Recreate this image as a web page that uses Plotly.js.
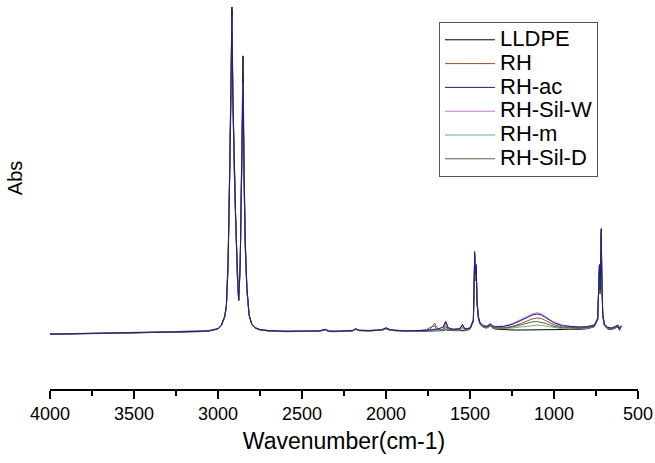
<!DOCTYPE html>
<html>
<head>
<meta charset="utf-8">
<script src="https://cdn.plot.ly/plotly-3.0.1.min.js"></script>
<style>html,body{margin:0;padding:0;background:#fff;}#chart{width:655px;height:463px;}</style>
</head>
<body>
<div id="chart"></div>
<script>
const wavenumber = [4000,3900,3800,3700,3600,3500,3400,3300,3200,3100,
3050,3000,2980,2960,2950,2940,2930,2922,2917,2912,
2905,2895,2885,2877,2868,2860,2851,2845,2838,2828,
2815,2800,2780,2750,2700,2600,2500,2400,2360,2340,
2300,2200,2180,2160,2100,2050,2020,2000,1980,1950,
1900,1850,1800,1760,1740,1710,1700,1680,1660,1645,
1630,1600,1560,1545,1530,1500,1480,1472,1468,1463,
1458,1450,1440,1420,1400,1378,1368,1350,1300,1250,
1200,1160,1130,1100,1075,1050,1020,1000,950,900,
850,800,760,740,730,725,719,716,710,700,
680,660,640,620,610,600];

const seriesNames = ["LLDPE","RH","RH-ac","RH-Sil-W","RH-m","RH-Sil-D"];

const absLLDPE = [-0.004,-0.003,-0.002,-0.002,0.000,-0.001,0.001,0.002,0.003,0.004,
0.006,0.012,0.022,0.05,0.085,0.22,0.50,0.80,1.00,0.74,
0.56,0.36,0.18,0.10,0.21,0.47,0.85,0.52,0.29,0.14,
0.055,0.028,0.015,0.009,0.006,0.004,0.004,0.005,0.009,0.004,
0.004,0.006,0.011,0.007,0.006,0.007,0.009,0.013,0.009,0.007,
0.005,0.005,0.005,0.006,0.006,0.006,0.006,0.007,0.007,0.010,
0.008,0.007,0.007,0.009,0.007,0.011,0.035,0.24,0.17,0.20,
0.09,0.045,0.026,0.017,0.015,0.022,0.016,0.012,0.010,0.009,
0.009,0.009,0.009,0.010,0.009,0.009,0.009,0.009,0.009,0.010,
0.011,0.013,0.019,0.04,0.20,0.12,0.32,0.19,0.055,0.022,
0.012,0.010,0.013,0.018,0.008,0.02];

const absRH = [-0.003,-0.003,-0.001,-0.002,0.001,0.000,0.002,0.003,0.004,0.005,
0.007,0.013,0.023,0.05,0.08,0.21,0.48,0.76,0.96,0.71,
0.54,0.35,0.18,0.10,0.20,0.43,0.76,0.48,0.27,0.13,
0.055,0.028,0.016,0.010,0.007,0.005,0.005,0.006,0.010,0.005,
0.005,0.007,0.012,0.008,0.007,0.008,0.010,0.014,0.010,0.008,
0.006,0.006,0.007,0.007,0.010,0.030,0.018,0.009,0.010,0.030,
0.012,0.009,0.012,0.024,0.011,0.013,0.035,0.22,0.16,0.19,
0.09,0.047,0.028,0.020,0.018,0.025,0.019,0.016,0.016,0.020,
0.028,0.036,0.043,0.046,0.044,0.038,0.030,0.025,0.018,0.016,
0.016,0.017,0.022,0.042,0.19,0.12,0.30,0.18,0.055,0.024,
0.015,0.013,0.016,0.022,0.012,0.02];

const absRHac = [-0.004,-0.002,-0.002,-0.001,0.000,0.001,0.002,0.002,0.004,0.005,
0.007,0.013,0.024,0.052,0.085,0.22,0.50,0.79,0.99,0.73,
0.55,0.36,0.18,0.10,0.21,0.45,0.78,0.50,0.28,0.14,
0.056,0.029,0.016,0.010,0.007,0.005,0.005,0.006,0.011,0.006,
0.005,0.007,0.013,0.008,0.007,0.008,0.011,0.016,0.011,0.008,
0.006,0.006,0.007,0.008,0.009,0.010,0.011,0.014,0.018,0.036,
0.016,0.011,0.013,0.026,0.012,0.015,0.04,0.25,0.18,0.21,
0.10,0.05,0.03,0.022,0.020,0.028,0.022,0.019,0.020,0.026,
0.037,0.047,0.055,0.058,0.055,0.047,0.038,0.031,0.022,0.019,
0.018,0.019,0.024,0.045,0.21,0.13,0.31,0.19,0.058,0.026,
0.017,0.015,0.018,0.024,0.014,0.022];

const absRHSilW = [-0.003,-0.002,-0.001,-0.001,0.001,0.001,0.003,0.003,0.004,0.006,
0.008,0.014,0.024,0.05,0.08,0.20,0.47,0.75,0.94,0.70,
0.53,0.34,0.17,0.10,0.20,0.42,0.75,0.47,0.27,0.13,
0.055,0.029,0.017,0.011,0.008,0.006,0.006,0.007,0.011,0.006,
0.006,0.008,0.013,0.009,0.008,0.009,0.011,0.016,0.011,0.009,
0.007,0.007,0.008,0.009,0.010,0.011,0.012,0.014,0.017,0.034,
0.016,0.012,0.014,0.027,0.013,0.016,0.04,0.23,0.17,0.20,
0.10,0.05,0.031,0.023,0.021,0.029,0.023,0.020,0.021,0.028,
0.040,0.050,0.058,0.062,0.059,0.050,0.040,0.033,0.024,0.020,
0.019,0.020,0.025,0.046,0.20,0.13,0.30,0.18,0.057,0.027,
0.018,0.016,0.019,0.025,0.015,0.023];

const absRHm = [-0.004,-0.003,-0.002,-0.002,0.000,0.000,0.001,0.002,0.003,0.004,
0.006,0.012,0.022,0.049,0.082,0.21,0.49,0.78,0.97,0.72,
0.55,0.35,0.18,0.10,0.20,0.44,0.77,0.49,0.28,0.13,
0.054,0.027,0.015,0.009,0.006,0.004,0.004,0.005,0.009,0.005,
0.004,0.006,0.011,0.007,0.006,0.007,0.009,0.013,0.009,0.007,
0.005,0.005,0.006,0.006,0.007,0.007,0.007,0.008,0.008,0.014,
0.009,0.008,0.008,0.014,0.008,0.012,0.036,0.23,0.17,0.20,
0.09,0.046,0.027,0.018,0.016,0.023,0.017,0.014,0.013,0.015,
0.018,0.021,0.023,0.024,0.023,0.021,0.018,0.016,0.013,0.012,
0.012,0.014,0.02,0.041,0.19,0.12,0.31,0.19,0.055,0.023,
0.013,0.011,0.014,0.02,0.010,0.021];

const absRHSilD = [-0.003,-0.003,-0.002,-0.001,0.000,0.000,0.002,0.002,0.003,0.005,
0.007,0.012,0.022,0.048,0.08,0.20,0.46,0.74,0.92,0.69,
0.52,0.34,0.17,0.10,0.20,0.42,0.74,0.47,0.26,0.13,
0.054,0.028,0.016,0.010,0.007,0.005,0.005,0.006,0.010,0.005,
0.005,0.007,0.012,0.008,0.007,0.008,0.010,0.014,0.010,0.008,
0.006,0.006,0.007,0.009,0.016,0.022,0.013,0.009,0.009,0.020,
0.010,0.009,0.010,0.018,0.010,0.013,0.036,0.22,0.16,0.19,
0.09,0.047,0.028,0.019,0.017,0.024,0.018,0.015,0.015,0.018,
0.024,0.030,0.034,0.035,0.033,0.029,0.024,0.020,0.016,0.014,
0.014,0.016,0.021,0.041,0.19,0.12,0.30,0.18,0.054,0.023,
0.014,0.012,0.015,0.021,0.011,0.02];

const xTickVals = [4000,3500,3000,2500,2000,1500,1000,500];
const xTickText = ["4000","3500","3000","2500","2000","1500","1000","500"];

const seriesValues = [absLLDPE, absRH, absRHac, absRHSilW, absRHm, absRHSilD];
const seriesColors = ["#000000","#a0452e","#1c1c8a","#b878d8","#6fae7c","#5a5f48"];
// drawing order (later on top); legend order is kept by legendrank
const drawOrder = [0, 1, 3, 4, 5, 2];

const traces = drawOrder.map(i => ({
  type: "scatter",
  mode: "lines",
  name: "<span style='font-size:22px'>" + seriesNames[i] + "</span>",
  legendrank: i + 1,
  x: wavenumber,
  y: seriesValues[i],
  line: {color: seriesColors[i], width: 1}
}));

const font = "Arial, 'Liberation Sans', sans-serif";

const layout = {
  width: 655,
  height: 463,
  margin: {l: 50, r: 17, t: 5, b: 74},
  paper_bgcolor: "#ffffff",
  plot_bgcolor: "#ffffff",
  font: {family: font, color: "#000", size: 18},
  showlegend: true,
  legend: {
    x: 0.6616, y: 0.956, xanchor: "left", yanchor: "top",
    bgcolor: "#ffffff", bordercolor: "#555555", borderwidth: 1,
    font: {family: font, size: 16, color: "#000"},
    itemwidth: 50,
    tracegroupgap: 0,
    traceorder: "normal"
  },
  xaxis: {
    range: [4000, 500],
    tickvals: xTickVals,
    ticktext: xTickText,
    ticks: "outside", ticklen: 8, tickwidth: 1.5, tickcolor: "#000",
    minor: {dtick: 250, ticks: "outside", ticklen: 5, tickwidth: 1.5, tickcolor: "#000", showgrid: false},
    showline: true, linecolor: "#000", linewidth: 1.5,
    showgrid: false, zeroline: false,
    tickfont: {family: font, size: 18, color: "#000"},
    title: {text: "Wavenumber(cm-1)", font: {family: font, size: 23, color: "#000"}, standoff: 10}
  },
  yaxis: {
    range: [-0.172, 1.006],
    showticklabels: false, ticks: "",
    showline: false, showgrid: false, zeroline: false
  },
  annotations: [{
    text: "Abs", textangle: -90, showarrow: false,
    xref: "paper", yref: "paper", x: -0.0595, y: 0.549,
    xanchor: "center", yanchor: "middle",
    font: {family: font, size: 20, color: "#000"}
  }]
};

Plotly.newPlot("chart", traces, layout, {displayModeBar: false, staticPlot: true});
</script>
</body>
</html>
